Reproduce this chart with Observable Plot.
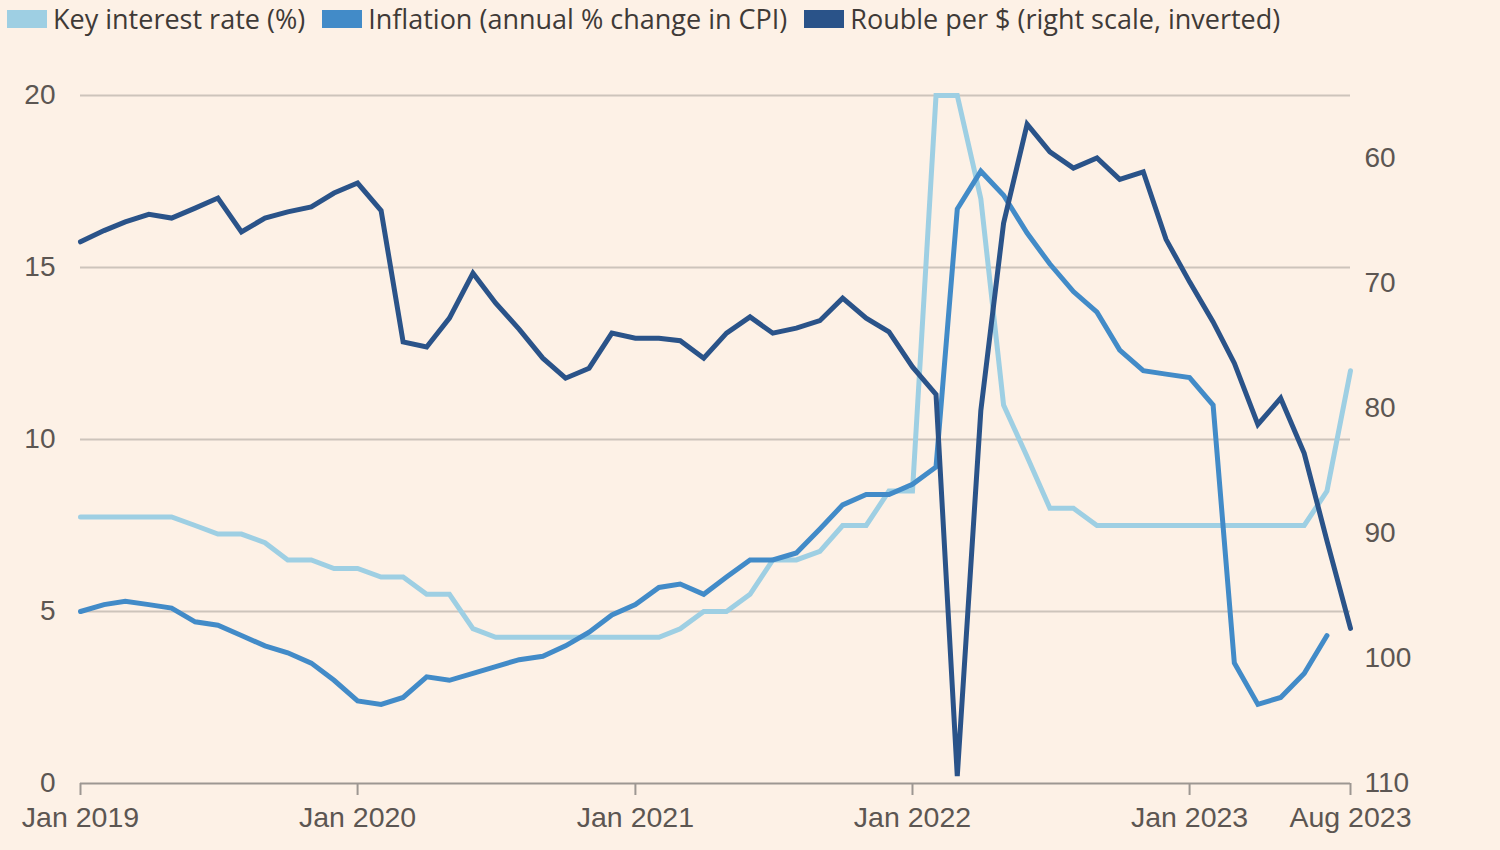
<!DOCTYPE html>
<html>
<head>
<meta charset="utf-8">
<script src="https://cdn.jsdelivr.net/npm/d3@7"></script>
<script src="https://cdn.jsdelivr.net/npm/@observablehq/plot@0.6"></script>
<style>
  html, body { margin: 0; padding: 0; background: #fdf1e6; }
  body { width: 1500px; height: 850px; overflow: hidden; font-family: "Open Sans", "Liberation Sans", Arial, sans-serif; }
  #legend { height: 37px; display: flex; align-items: center; font-size: 27px; color: #3f3a37; white-space: nowrap; padding-left: 7px; }
  .item { display: flex; align-items: center; margin-right: 17px; }
  .sw { width: 40px; height: 18px; margin-right: 6px; }
  #chart svg { display: block; }
</style>
</head>
<body>
<div id="legend"></div>
<div id="chart"></div>
<script>
// ---- Data (monthly, Jan 2019 – Aug 2023) ----
const startMonth = "2019-01-01";
const seriesNames = ["Key interest rate (%)", "Inflation (annual % change in CPI)", "Rouble per $ (right scale, inverted)"];
const seriesColors = ["#9ecfe3", "#428bc8", "#2a5389"];

const keyRate = [7.75, 7.75, 7.75, 7.75, 7.75, 7.5, 7.25, 7.25, 7.0, 6.5, 6.5, 6.25,
                 6.25, 6.0, 6.0, 5.5, 5.5, 4.5, 4.25, 4.25, 4.25, 4.25, 4.25, 4.25,
                 4.25, 4.25, 4.5, 5.0, 5.0, 5.5, 6.5, 6.5, 6.75, 7.5, 7.5, 8.5,
                 8.5, 20, 20, 17, 11, 9.5, 8.0, 8.0, 7.5, 7.5, 7.5, 7.5,
                 7.5, 7.5, 7.5, 7.5, 7.5, 7.5, 8.5, 12];

const inflation = [5.0, 5.2, 5.3, 5.2, 5.1, 4.7, 4.6, 4.3, 4.0, 3.8, 3.5, 3.0,
                   2.4, 2.3, 2.5, 3.1, 3.0, 3.2, 3.4, 3.6, 3.7, 4.0, 4.4, 4.9,
                   5.2, 5.7, 5.8, 5.5, 6.0, 6.5, 6.5, 6.7, 7.4, 8.1, 8.4, 8.4,
                   8.7, 9.2, 16.7, 17.8, 17.1, 16.0, 15.1, 14.3, 13.7, 12.6, 12.0, 11.9,
                   11.8, 11.0, 3.5, 2.3, 2.5, 3.2, 4.3];

const rouble = [66.7, 65.8, 65.1, 64.5, 64.8, 64.0, 63.2, 65.9, 64.8, 64.3, 63.9, 62.8,
                62.0, 64.2, 74.7, 75.1, 72.8, 69.2, 71.6, 73.7, 76.0, 77.6, 76.8, 74.0,
                74.4, 74.4, 74.6, 76.0, 74.0, 72.7, 74.0, 73.6, 73.0, 71.2, 72.8, 73.9,
                76.7, 78.9, 109.4, 80.2, 65.2, 57.3, 59.5, 60.8, 60.0, 61.7, 61.1, 66.5,
                69.9, 73.1, 76.4, 81.3, 79.2, 83.6, 90.6, 97.6];

const leftTicks = [0, 5, 10, 15, 20];
const gridTicks = [5, 10, 15, 20];
const rightTicks = [60, 70, 80, 90, 100, 110];
const rightDomain = [55, 110]; // inverted: 110 at bottom, 55 at top
const xTickDates = ["2019-01-01", "2020-01-01", "2021-01-01", "2022-01-01", "2023-01-01", "2023-08-01"];

// ---- Build ----
const months = d3.utcMonth.range(new Date(startMonth), d3.utcMonth.offset(new Date(startMonth), rouble.length));
const leftMax = d3.max(leftTicks);
// map rouble (right, inverted) onto left-scale units
const toLeft = r => (rightDomain[1] - r) / (rightDomain[1] - rightDomain[0]) * leftMax;
const fromLeft = v => rightDomain[1] - v / leftMax * (rightDomain[1] - rightDomain[0]);

const rows = [];
keyRate.forEach((v, i) => rows.push({date: months[i], value: v, series: seriesNames[0]}));
inflation.forEach((v, i) => rows.push({date: months[i], value: v, series: seriesNames[1]}));
rouble.forEach((v, i) => rows.push({date: months[i], value: toLeft(v), series: seriesNames[2]}));

const legend = document.getElementById("legend");
seriesNames.forEach((n, i) => {
  const it = document.createElement("div");
  it.className = "item";
  it.innerHTML = `<span class="sw" style="background:${seriesColors[i]}"></span><span>${n}</span>`;
  legend.appendChild(it);
});

const fmt = d3.utcFormat("%b %Y");
const chart = Plot.plot({
  width: 1500,
  height: 813,
  marginTop: 58,
  marginBottom: 67,
  marginLeft: 80,
  marginRight: 150,
  style: {background: "transparent", fontFamily: "'Liberation Sans', Arial, sans-serif", fontSize: "28px", color: "#5c5652", overflow: "visible"},
  x: {type: "utc", domain: [months[0], months[months.length - 1]]},
  y: {domain: [0, leftMax]},
  color: {domain: seriesNames, range: seriesColors},
  marks: [
    Plot.gridY(gridTicks, {stroke: "#cdc4bb", strokeOpacity: 1, strokeWidth: 1.8}),
    Plot.axisY(leftTicks, {anchor: "left", tickSize: 0, tickPadding: 25, label: null}),
    Plot.axisY(rightTicks.map(toLeft), {anchor: "right", tickSize: 0, tickPadding: 14, label: null, tickFormat: v => String(Math.round(fromLeft(v)))}),
    Plot.line(rows, {x: "date", y: "value", z: "series", stroke: "series", strokeWidth: 5, strokeLinejoin: "miter", strokeMiterlimit: 4, curve: "linear"}),
    Plot.ruleY([0], {stroke: "#9d9792", strokeWidth: 2}),
    Plot.axisX(xTickDates.map(d => new Date(d)), {tickSize: 12, tickPadding: 11, stroke: "#9d9792", strokeWidth: 2, strokeOpacity: 1, tickFormat: fmt, label: null, fontSize: "28.5px"})
  ]
});
document.getElementById("chart").appendChild(chart);
</script>
</body>
</html>
